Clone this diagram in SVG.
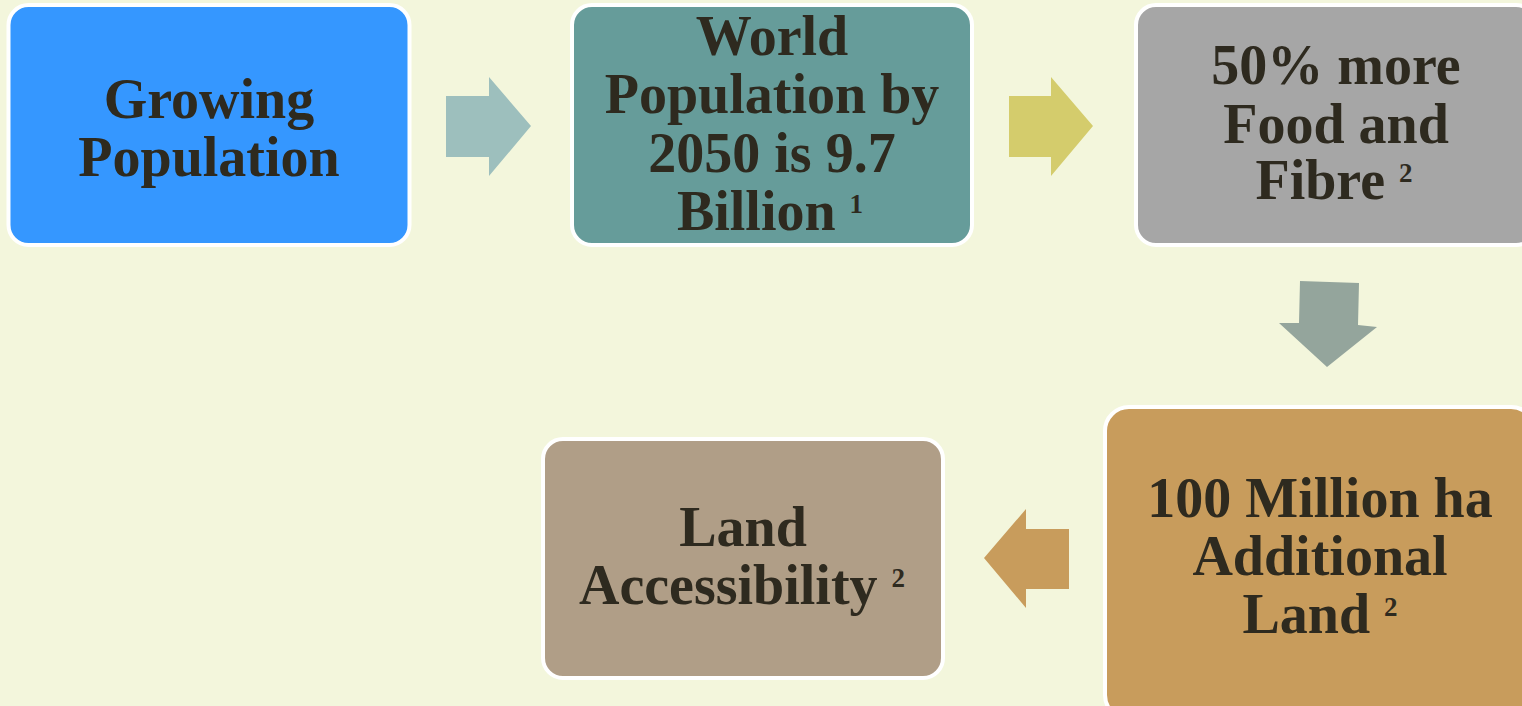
<svg xmlns="http://www.w3.org/2000/svg" width="1522" height="706" viewBox="0 0 1522 706">
  <style>
    .box { stroke: #ffffff; stroke-width: 4; }
    .label { font-family: "Liberation Serif", "Times New Roman", serif; font-weight: bold; font-size: 56px; fill: #2e2a1f; text-anchor: middle; }
    .sup { font-size: 27px; }
  </style>
  <rect width="1522" height="706" fill="#f3f6dc"/>

  <!-- flow arrows -->
  <g id="connectors">
    <polygon fill="#9dbfbd" points="446,96 489,96 489,77 531,126 489,176 489,157 446,157"/>
    <polygon fill="#d4cc6c" points="1009,96 1051,96 1051,77 1093,126 1051,176 1051,157 1009,157"/>
    <polygon fill="#94a59c" points="1300,281 1359,283 1358,325 1377,327 1327,367 1279,323 1299,323"/>
    <polygon fill="#c89c5c" points="1069,529 1026,529 1026,509 984,558 1026,608 1026,589 1069,589"/>
  </g>

  <g id="growing-population">
    <rect class="box" x="8.5" y="5" width="401" height="240" rx="20" fill="#3597ff"/>
    <text class="label"><tspan x="209" y="118">Growing</tspan><tspan x="209" y="176">Population</tspan></text>
  </g>

  <g id="world-population">
    <rect class="box" x="572" y="5" width="400" height="240" rx="20" fill="#669c9a"/>
    <text class="label"><tspan x="772" y="55">World</tspan><tspan x="772" y="113">Population by</tspan><tspan x="772" y="172">2050 is 9.7</tspan></text>
    <text class="label" x="770" y="230">Billion <tspan class="sup" dy="-17">1</tspan></text>
  </g>

  <g id="food-and-fibre">
    <rect class="box" x="1136" y="5" width="400" height="240" rx="20" fill="#a6a6a6"/>
    <text class="label"><tspan x="1336" y="84">50% more</tspan><tspan x="1336" y="143">Food and</tspan></text>
    <text class="label" x="1334" y="199">Fibre <tspan class="sup" dy="-17">2</tspan></text>
  </g>

  <g id="additional-land">
    <rect class="box" x="1105" y="407" width="430" height="312" rx="24" fill="#c89c5c"/>
    <text class="label"><tspan x="1320" y="517">100 Million ha</tspan><tspan x="1320" y="575">Additional</tspan></text>
    <text class="label" x="1320" y="633">Land <tspan class="sup" dy="-17">2</tspan></text>
  </g>

  <g id="land-accessibility">
    <rect class="box" x="543" y="439" width="400" height="239" rx="20" fill="#b09e87"/>
    <text class="label" x="743" y="546">Land</text>
    <text class="label" x="742" y="604">Accessibility <tspan class="sup" dy="-17">2</tspan></text>
  </g>
</svg>
